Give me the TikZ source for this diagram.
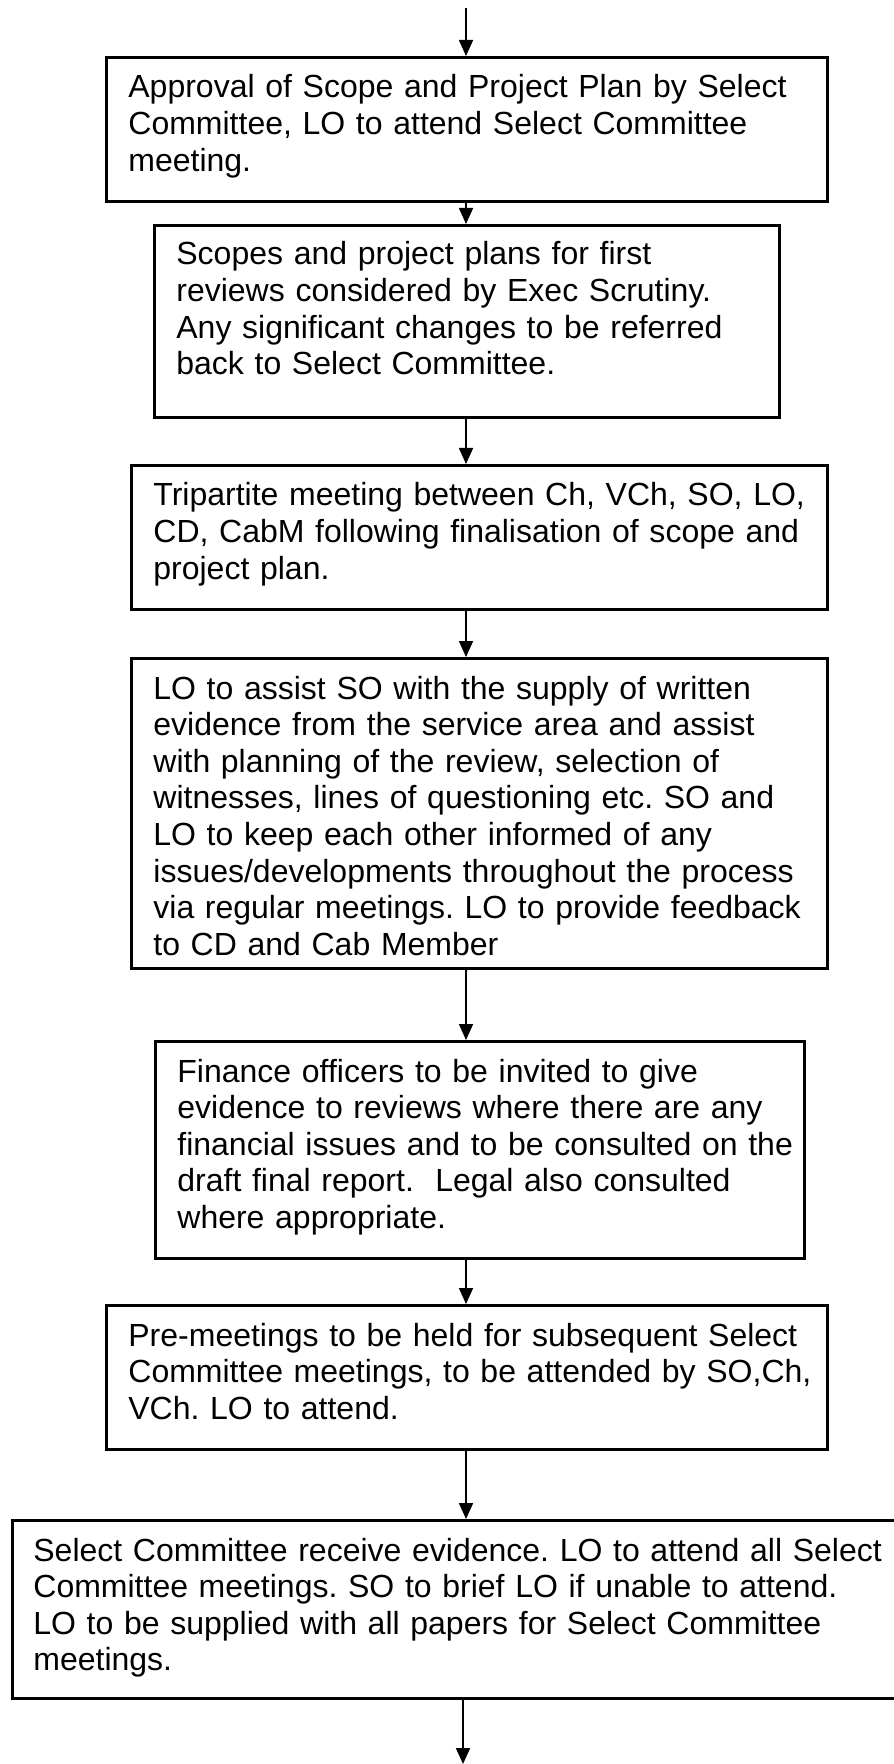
\documentclass[tikz,border=0pt]{standalone}
\usepackage{fontspec}
\setmainfont{Liberation Sans}
\usetikzlibrary{arrows.meta}
\frenchspacing
\begin{document}
\begin{tikzpicture}[x=0.5pt,y=-0.5pt,
  stepbox/.style={draw=black, line width=1.65pt, inner sep=0pt, anchor=north west},
  txt/.style={anchor=base west, inner sep=0pt, text width=440pt, align=left,
    font=\fontsize{16pt}{18.3pt}\selectfont\frenchspacing},
  flow/.style={line width=0.85pt, -{Triangle[width=7pt,length=8pt]}}]
\useasboundingbox (0,0) rectangle (893,1764);
% boxes
\node[stepbox, minimum width=360.5pt, minimum height=72pt] (b1) at (105,56) {};
\node[stepbox, minimum width=312.5pt, minimum height=96pt] (b2) at (153,224) {};
\node[stepbox, minimum width=348pt, minimum height=72pt] (b3) at (130,464) {};
\node[stepbox, minimum width=348pt, minimum height=155pt] (b4) at (130,657) {};
\node[stepbox, minimum width=324.5pt, minimum height=108.5pt] (b5) at (154,1040) {};
\node[stepbox, minimum width=360.5pt, minimum height=72pt] (b6) at (105,1304) {};
\node[stepbox, minimum width=444.5pt, minimum height=89pt] (b7) at (11,1519) {};
% texts
\node[txt] (t1) at (128,98) {Approval of Scope and Project Plan by Select\\
Committee, LO to attend Select Committee\\
meeting.};
\node[txt] (t2) at (176,265) {Scopes and project plans for first\\
reviews considered by Exec Scrutiny.\\
Any significant changes to be referred\\
back to Select Committee.};
\node[txt] (t3) at (153,506) {Tripartite meeting between Ch, VCh, SO, LO,\\
CD, CabM following finalisation of scope and\\
project plan.};
\node[txt] (t4) at (153,699) {LO to assist SO with the supply of written\\
evidence from the service area and assist\\
with planning of the review, selection of\\
witnesses, lines of questioning etc. SO and\\
LO to keep each other informed of any\\
issues/developments throughout the process\\
via regular meetings. LO to provide feedback\\
to CD and Cab Member};
\node[txt] (t5) at (177,1082) {Finance officers to be invited to give\\
evidence to reviews where there are any\\
financial issues and to be consulted on the\\
draft final report.\ \ Legal also consulted\\
where appropriate.};
\node[txt] (t6) at (128,1346) {Pre-meetings to be held for subsequent Select\\
Committee meetings, to be attended by SO,Ch,\\
VCh. LO to attend.};
\node[txt] (t7) at (33,1561) {Select Committee receive evidence. LO to attend all Select\\
Committee meetings. SO to brief LO if unable to attend.\\
LO to be supplied with all papers for Select Committee\\
meetings.};
% connectors
\coordinate (ax) at (466,0);
\coordinate (start) at (466,8);
\coordinate (finish) at (463,1764);
\draw[flow] (start) -- (b1.north -| ax);
\draw[flow] (b1.south -| ax) -- (b2.north -| ax);
\draw[flow] (b2.south -| ax) -- (b3.north -| ax);
\draw[flow] (b3.south -| ax) -- (b4.north -| ax);
\draw[flow] (b4.south -| ax) -- (b5.north -| ax);
\draw[flow] (b5.south -| ax) -- (b6.north -| ax);
\draw[flow] (b6.south -| ax) -- (b7.north -| ax);
\draw[flow] (b7.south -| finish) -- (finish);
\end{tikzpicture}
\end{document}
